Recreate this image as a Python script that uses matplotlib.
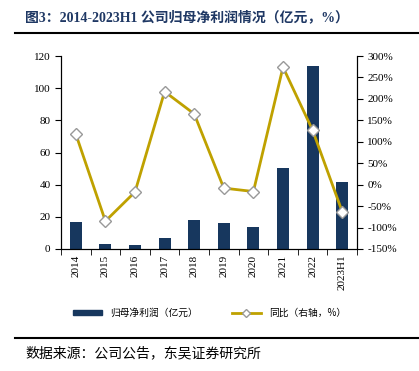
import matplotlib.pyplot as plt
import numpy as np
from matplotlib.lines import Line2D
from matplotlib.patches import Patch
from matplotlib.ticker import FuncFormatter

plt.rcParams['font.family'] = ['Liberation Serif', 'Noto Sans CJK SC']

years = ['2014', '2015', '2016', '2017', '2018', '2019', '2020', '2021', '2022', '2023H1']
profit = [16.6, 2.9, 2.3, 6.6, 17.8, 16.2, 13.7, 50.2, 113.6, 41.5]
yoy = [118, -85, -17, 217, 165, -8, -16, 274, 127, -63]

bar_color = '#17375E'
line_color = '#BFA100'

fig = plt.figure(figsize=(4.19, 3.71), dpi=100)
ax = fig.add_axes([61 / 419, 1 - 249 / 371, (357 - 61) / 419, (249 - 56) / 371])
x = np.arange(len(years))
ax.bar(x, profit, width=0.4, color=bar_color, zorder=2)
ax.set_xlim(-0.5, len(years) - 0.5)
ax.set_ylim(0, 120)
ax.set_yticks(range(0, 121, 20))
ax.set_xticks(x)
ax.set_xticklabels(years, rotation=90, fontsize=8)
ax.set_xticks(np.arange(-0.5, len(years), 1), minor=True)
ax.tick_params(axis='x', which='major', length=0, pad=4)
ax.tick_params(axis='x', which='minor', length=4, direction='out')
ax.tick_params(axis='y', labelsize=8, length=4, direction='out')
ax.spines['top'].set_visible(False)

ax2 = ax.twinx()
ax2.plot(x, yoy, color=line_color, lw=2, marker='D', ms=6,
         mfc='white', mec='#999999', mew=1, zorder=3)
ax2.set_ylim(-150, 300)
ax2.set_yticks(range(-150, 301, 50))
ax2.yaxis.set_major_formatter(FuncFormatter(lambda v, p: f'{int(v)}%'))
ax2.tick_params(axis='y', labelsize=8, length=4, direction='out')
ax2.spines['top'].set_visible(False)

handles = [Patch(color=bar_color),
           Line2D([], [], color=line_color, lw=2, marker='D', ms=4, mfc='white', mec='#999999')]
labels = ['归母净利润（亿元）', '同比（右轴，%）']
fig.legend(handles, labels, loc='center', bbox_to_anchor=(0.5, 1 - 313 / 371), ncol=2,
           frameon=False, prop={'family': 'Noto Sans CJK SC', 'size': 7},
           handlelength=3, handleheight=0.5, columnspacing=3.5)

fig.text(25 / 419, 1 - 17 / 371, '图3：2014-2023H1 公司归母净利润情况（亿元，%）',
         fontsize=10, fontweight='bold', color='#1F3864', va='center',
         family=['Liberation Serif', 'Noto Sans CJK SC'])
fig.add_artist(Line2D([15 / 419, 1], [1 - 33 / 371, 1 - 33 / 371], color='black', lw=1.5))
fig.add_artist(Line2D([15 / 419, 1], [1 - 338 / 371, 1 - 338 / 371], color='black', lw=1.5))
fig.text(25 / 419, 1 - 353 / 371, '数据来源：公司公告，东吴证券研究所', fontsize=10,
         va='center', family='Noto Sans CJK SC')

fig.savefig('out.png', dpi=100)
